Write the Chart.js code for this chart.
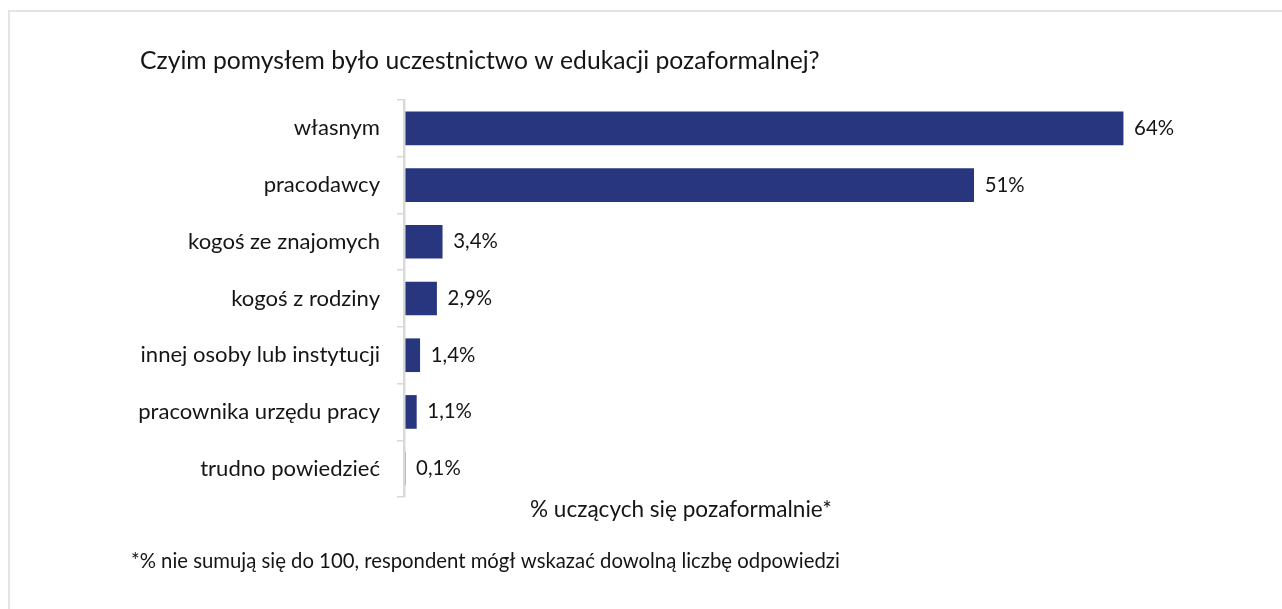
<!DOCTYPE html>
<html><head><meta charset="utf-8">
<script src="https://cdn.jsdelivr.net/npm/chart.js@4/dist/chart.umd.min.js"></script>
<style>
html,body{margin:0;padding:0;background:#fff;overflow:hidden;width:1282px;height:609px}
#frame{position:absolute;left:8px;top:10px;width:1400px;height:800px;border-left:2px solid #e4e4e4;border-top:2px solid #e4e4e4}
#wrap{position:absolute;left:0;top:0;width:1282px;height:609px}
</style></head><body>
<div id="frame"></div>
<div id="wrap"><canvas id="c" width="1282" height="609"></canvas></div>
<script>
const categories = ['własnym','pracodawcy','kogoś ze znajomych','kogoś z rodziny','innej osoby lub instytucji','pracownika urzędu pracy','trudno powiedzieć'];
const values = [64, 50.7, 3.4, 2.9, 1.4, 1.1, 0.1];
const titleText = 'Czyim pomysłem było uczestnictwo w edukacji pozaformalnej?';
const axisTitle = '% uczących się pozaformalnie*';
const footnote = '*% nie sumują się do 100, respondent mógł wskazać dowolną liczbę odpowiedzi';

const FAMILY = 'Lato, "Open Sans", sans-serif';
const TEXT = '#151515';
const BAR = '#28367F';

const mctx = document.createElement('canvas').getContext('2d');
function fitSize(text, target){ mctx.font = '100px ' + FAMILY; return 100 * target / mctx.measureText(text).width; }
const titleSize = fitSize(titleText, 680);
const tickSize = fitSize('kogoś ze znajomych', 192);
const labelSize = fitSize('64%', 40);
const axisTitleSize = fitSize(axisTitle, 302);
const footSize = fitSize(footnote, 709);

function fmt(v){ return v >= 10 ? Math.round(v) + '%' : v.toFixed(1).replace('.', ',') + '%'; }

const textPlugin = {
  id: 'texts',
  afterDraw(chart){
    const ctx = chart.ctx;
    ctx.save();
    ctx.fillStyle = TEXT;
    ctx.textAlign = 'left';
    ctx.textBaseline = 'middle';
    ctx.font = labelSize + 'px ' + FAMILY;
    const meta = chart.getDatasetMeta(0);
    meta.data.forEach((el, i) => { ctx.fillText(fmt(values[i]), el.x + 11, el.y); });
    ctx.textBaseline = 'alphabetic';
    ctx.font = titleSize + 'px ' + FAMILY;
    ctx.fillText(titleText, 140, 69);
    ctx.font = axisTitleSize + 'px ' + FAMILY;
    ctx.fillText(axisTitle, 530, 517);
    ctx.font = footSize + 'px ' + FAMILY;
    ctx.fillText(footnote, 131, 568);
    ctx.restore();
  }
};

new Chart(document.getElementById('c'), {
  type: 'bar',
  data: { labels: categories, datasets: [{ data: values, backgroundColor: BAR, barThickness: 33 }] },
  options: {
    responsive: false,
    animation: false,
    indexAxis: 'y',
    layout: { padding: { left: 0, top: 100, bottom: 112, right: 69 } },
    plugins: { legend: { display: false }, tooltip: { enabled: false } },
    scales: {
      x: { display: false, min: 0, max: 72 },
      y: {
        afterFit(s){ s.width = 404; },
        grid: { drawOnChartArea: false, color: '#d9d9d9', lineWidth: 1.5, tickLength: 7, offset: true },
        border: { color: '#d9d9d9', width: 2.5, z: 1 },
        ticks: { color: TEXT, font: { family: FAMILY, size: tickSize }, padding: 17 }
      }
    }
  },
  plugins: [textPlugin]
});
</script>
</body></html>
